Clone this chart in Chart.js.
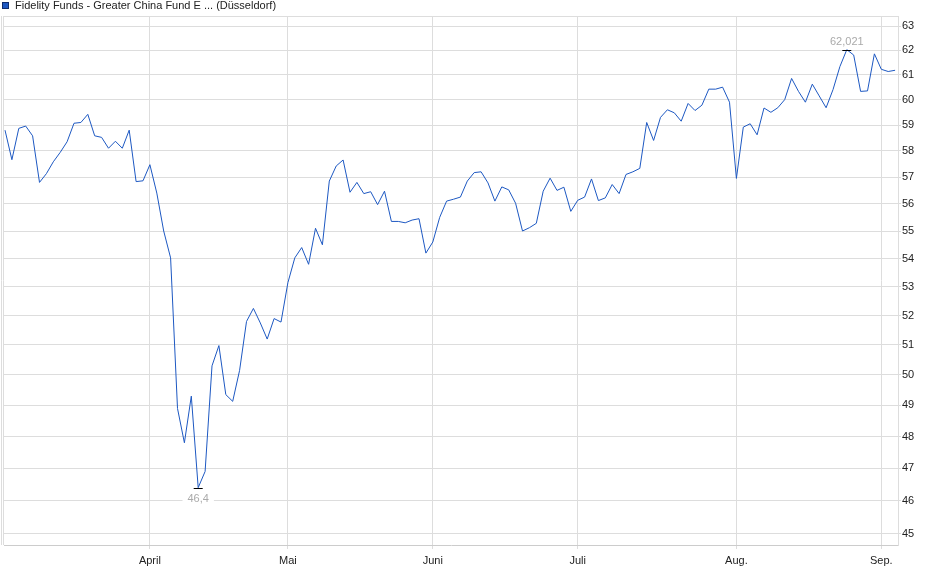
<!DOCTYPE html>
<html>
<head>
<meta charset="utf-8">
<script src="https://cdn.jsdelivr.net/npm/chart.js@4.4.1/dist/chart.umd.min.js"></script>
<style>
body { margin: 0; background: #fff; }
#box { width: 940px; height: 579px; }
</style>
</head>
<body>
<div id="box"><canvas id="grafico" width="940" height="579"></canvas></div>
<script>
const titulo = 'Fidelity Funds - Greater China Fund E ... (Düsseldorf)'

// Schlusskurse je Handelstag, März bis Anfang September
const kurse = [
    58.8, 57.66, 58.87, 58.96, 58.58, 56.8, 57.13, 57.58, 57.94, 58.35,
    59.07, 59.1, 59.42, 58.58, 58.52, 58.1, 58.37, 58.1, 58.8, 56.83,
    56.86, 57.47, 56.4, 55.0, 54.03, 48.9, 47.8, 49.3, 46.4, 46.9,
    50.3, 50.98, 49.35, 49.13, 50.15, 51.8, 52.25, 51.75, 51.2, 51.9,
    51.78, 53.15, 54.03, 54.4, 53.8, 55.1, 54.5, 56.85, 57.42, 57.65,
    56.43, 56.8, 56.38, 56.45, 55.97, 56.47, 55.35, 55.35, 55.3, 55.4,
    55.45, 54.2, 54.6, 55.5, 56.1, 56.17, 56.25, 56.85, 57.17, 57.2,
    56.78, 56.1, 56.63, 56.52, 56.02, 55.0, 55.12, 55.28, 56.47, 56.96,
    56.5, 56.62, 55.72, 56.13, 56.25, 56.93, 56.12, 56.22, 56.72, 56.38,
    57.1, 57.2, 57.33, 59.1, 58.4, 59.3, 59.6, 59.48, 59.15, 59.85,
    59.57, 59.78, 60.42, 60.42, 60.5, 59.9, 56.95, 58.92, 59.05, 58.62,
    59.67, 59.5, 59.68, 60.0, 60.85, 60.33, 59.9, 60.62, 60.15, 59.68,
    60.4, 61.33, 62.021, 61.8, 60.33, 60.35, 61.85, 61.22, 61.13, 61.18
]

const monate = ['April', 'Mai', 'Juni', 'Juli', 'Aug.', 'Sep.']
const handelstage = [21, 20, 21, 21, 23, 21]  // März .. August
const yTicks = [45, 46, 47, 48, 49, 50, 51, 52, 53, 54, 55, 56, 57, 58, 59, 60, 61, 62, 63]

let monatsAnfang = []
let summe = 0
handelstage.forEach(n => {
    summe += n
    monatsAnfang.push(summe)
})

const schrift = '"Liberation Sans", Arial, sans-serif'

const rahmen = {
    id: 'rahmen',
    beforeDatasetsDraw(chart) {
        const { ctx, chartArea } = chart
        ctx.save()
        ctx.strokeStyle = '#dddddd'
        ctx.lineWidth = 1
        ctx.beginPath()
        ctx.moveTo(chartArea.left, chartArea.top + 0.5)
        ctx.lineTo(chartArea.right, chartArea.top + 0.5)
        ctx.moveTo(chartArea.left - 0.5, chartArea.top)
        ctx.lineTo(chartArea.left - 0.5, chartArea.bottom)
        ctx.moveTo(chartArea.left - 2.5, chartArea.top)
        ctx.lineTo(chartArea.left - 2.5, chartArea.bottom)
        ctx.stroke()
        ctx.restore()
    }
}

const legende = {
    id: 'legende',
    afterDraw(chart) {
        const ctx = chart.ctx
        ctx.save()
        ctx.fillStyle = '#1d58c2'
        ctx.fillRect(2, 2, 7, 7)
        ctx.strokeStyle = '#0e2c6e'
        ctx.lineWidth = 1
        ctx.strokeRect(2.5, 2.5, 6, 6)
        ctx.fillStyle = '#222222'
        ctx.font = '11px ' + schrift
        ctx.textBaseline = 'middle'
        ctx.fillText(titulo, 15, 6)
        ctx.restore()
    }
}

const extremwerte = {
    id: 'extremwerte',
    afterDatasetsDraw(chart) {
        const { ctx, scales } = chart
        const hoch = Math.max(...kurse)
        const tief = Math.min(...kurse)
        const marken = [
            { i: kurse.indexOf(hoch), v: hoch, dy: -9 },
            { i: kurse.indexOf(tief), v: tief, dy: 10.5 }
        ]
        ctx.save()
        ctx.font = '11px ' + schrift
        ctx.textAlign = 'center'
        ctx.textBaseline = 'middle'
        marken.forEach(m => {
            const px = scales.x.getPixelForValue(m.i)
            const py = Math.round(scales.y.getPixelForValue(m.v)) + 0.5
            ctx.strokeStyle = '#000000'
            ctx.lineWidth = 1
            ctx.beginPath()
            ctx.moveTo(px - 4.5, py)
            ctx.lineTo(px + 4.5, py)
            ctx.stroke()
            const text = String(m.v).replace('.', ',')
            const w = ctx.measureText(text).width
            ctx.fillStyle = '#ffffff'
            ctx.fillRect(px - w / 2 - 5, py + m.dy - 6, w + 10, 12)
            ctx.fillStyle = '#aaaaaa'
            ctx.fillText(text, px, py + m.dy)
        })
        ctx.restore()
    }
}

const grafico = new Chart(document.getElementById('grafico'), {
    type: 'line',
    data: {
        datasets: [{
            label: titulo,
            data: kurse.map((v, i) => ({ x: i, y: v })),
            borderColor: '#1d58c2',
            borderWidth: 1,
            pointRadius: 0,
            tension: 0,
            fill: false
        }]
    },
    options: {
        responsive: false,
        animation: false,
        devicePixelRatio: 1,
        layout: { padding: { top: 16, left: 4, right: 0, bottom: 0 } },
        plugins: {
            legend: { display: false },
            tooltip: { enabled: false }
        },
        scales: {
            x: {
                type: 'linear',
                min: -0.145,
                max: 129.42,
                bounds: 'data',
                afterBuildTicks: s => { s.ticks = monatsAnfang.map(v => ({ value: v })) },
                afterFit: s => { s.height = 34 },
                ticks: {
                    callback: (v, i) => monate[i],
                    color: '#222222',
                    font: { family: schrift, size: 11 },
                    padding: 5,
                    maxRotation: 0,
                    autoSkip: false
                },
                grid: { color: '#dddddd', tickLength: 4 },
                border: { color: '#cccccc' }
            },
            y: {
                type: 'logarithmic',
                position: 'right',
                min: 44.67,
                max: 63.42,
                bounds: 'data',
                afterBuildTicks: s => { s.ticks = yTicks.map(v => ({ value: v })) },
                afterFit: s => { s.width = 42 },
                ticks: {
                    callback: v => String(v),
                    color: '#222222',
                    font: { family: schrift, size: 11 },
                    padding: 1,
                    autoSkip: false
                },
                grid: { color: '#dddddd', tickLength: 3 },
                border: { color: '#dddddd' }
            }
        }
    },
    plugins: [rahmen, legende, extremwerte]
})
</script>
</body>
</html>
